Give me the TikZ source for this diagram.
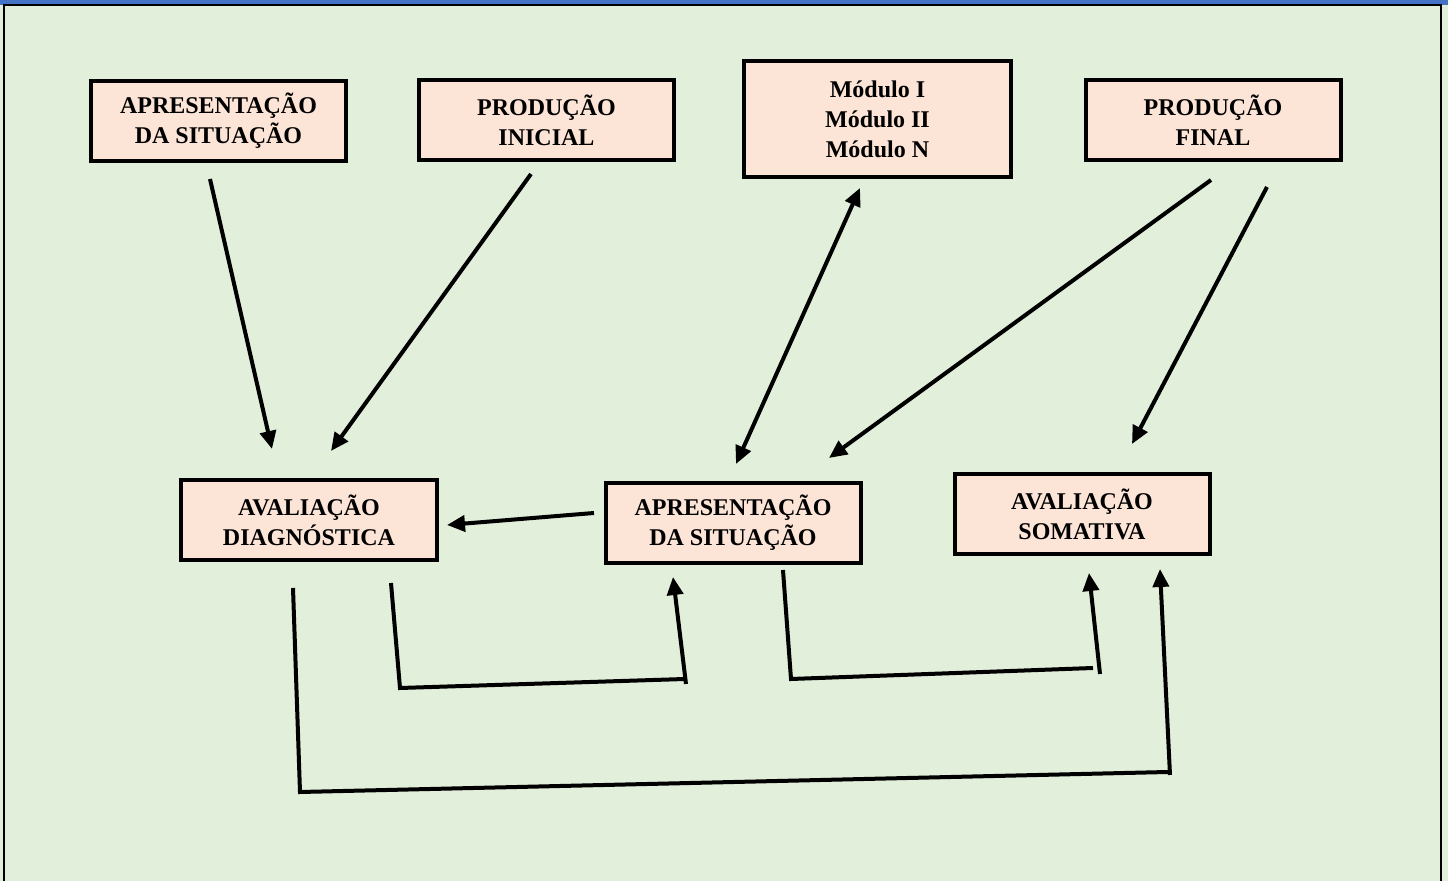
\documentclass[tikz,border=0pt]{standalone}
\usepackage{fontspec}
\setmainfont{Liberation Serif}
\usetikzlibrary{arrows.meta}
\definecolor{fondo}{HTML}{E2EFDA}
\definecolor{caja}{HTML}{FCE4D6}
\definecolor{franja}{HTML}{4472C4}
\tikzset{
  etapa/.style={draw, line width=2pt, fill=caja, align=center, inner sep=0pt,
    minimum width=127.5pt, minimum height=40pt,
    font=\bfseries\fontsize{12}{15}\selectfont},
  flecha/.style={line width=2pt, -{Triangle[length=9pt,width=8pt]}},
  doble/.style={line width=2pt, {Triangle[length=9pt,width=8pt]}-{Triangle[length=9pt,width=8pt]}},
  linea/.style={line width=2pt}
}
\begin{document}
\begin{tikzpicture}[x=0.5pt, y=-0.5pt]
        % Fondo y marco
        \useasboundingbox (0,0) rectangle (1448,881);
        \fill[fondo] (0,0) rectangle (1448,881);
        \fill[franja] (0,0) rectangle (1448,5);
        \draw[line width=1pt] (4,881) -- (4,5) -- (1441,5) -- (1441,881);

        % Etapas de arriba
        \node[etapa] (sit1) at (218.5,121) {APRESENTAÇÃO\\DA SITUAÇÃO};
        \node[etapa] (inicial) at (546.5,120) {PRODUÇÃO\\INICIAL};
        \node[etapa, minimum width=133.5pt, minimum height=58pt] (modulos) at (877.5,119) {Módulo I\\Módulo II\\Módulo N};
        \node[etapa] (final) at (1213,120) {PRODUÇÃO\\FINAL};

        % Avaliações
        \node[etapa, minimum width=128pt] (diag) at (309,520) {AVALIAÇÃO\\DIAGNÓSTICA};
        \node[etapa] (sit2) at (733,523) {APRESENTAÇÃO\\DA SITUAÇÃO};
        \node[etapa] (soma) at (1082,514.5) {AVALIAÇÃO\\SOMATIVA};

        % Extremos de las flechas
        \coordinate (s1) at (210,179);  \coordinate (e1) at (272,449);
        \coordinate (s2) at (531,174);  \coordinate (e2) at (331,451);
        \coordinate (s3) at (736,464);  \coordinate (e3) at (860,188);
        \coordinate (s4) at (1211,180); \coordinate (e4) at (829,458);
        \coordinate (s5) at (1267,187); \coordinate (e5) at (1132,444);
        \coordinate (s6) at (594,513);  \coordinate (e6) at (447,525);

        % Flechas simples
        \foreach \a/\b in {s1/e1, s2/e2, s4/e4, s5/e5, s6/e6} {
            \draw[flecha] (\a) -- (\b);
        }
        \draw[doble] (s3) -- (e3);

        % Corchetes de abajo
        \coordinate (c1a) at (391,583); \coordinate (c1b) at (400,688); \coordinate (c1c) at (685,679);
        \coordinate (c1d) at (686,684); \coordinate (c1e) at (673,577);
        \coordinate (c2a) at (783,570); \coordinate (c2b) at (791,679); \coordinate (c2c) at (1093,668);
        \coordinate (c2d) at (1100,674); \coordinate (c2e) at (1089,573);
        \coordinate (c3a) at (293,588); \coordinate (c3b) at (300,792); \coordinate (c3c) at (1168,772);
        \coordinate (c3d) at (1170,775); \coordinate (c3e) at (1160,569);

        \foreach \i in {1,2,3} {
            \draw[linea] (c\i a) -- (c\i b) -- (c\i c);
            \draw[flecha] (c\i d) -- (c\i e);
        }
\end{tikzpicture}
\end{document}
